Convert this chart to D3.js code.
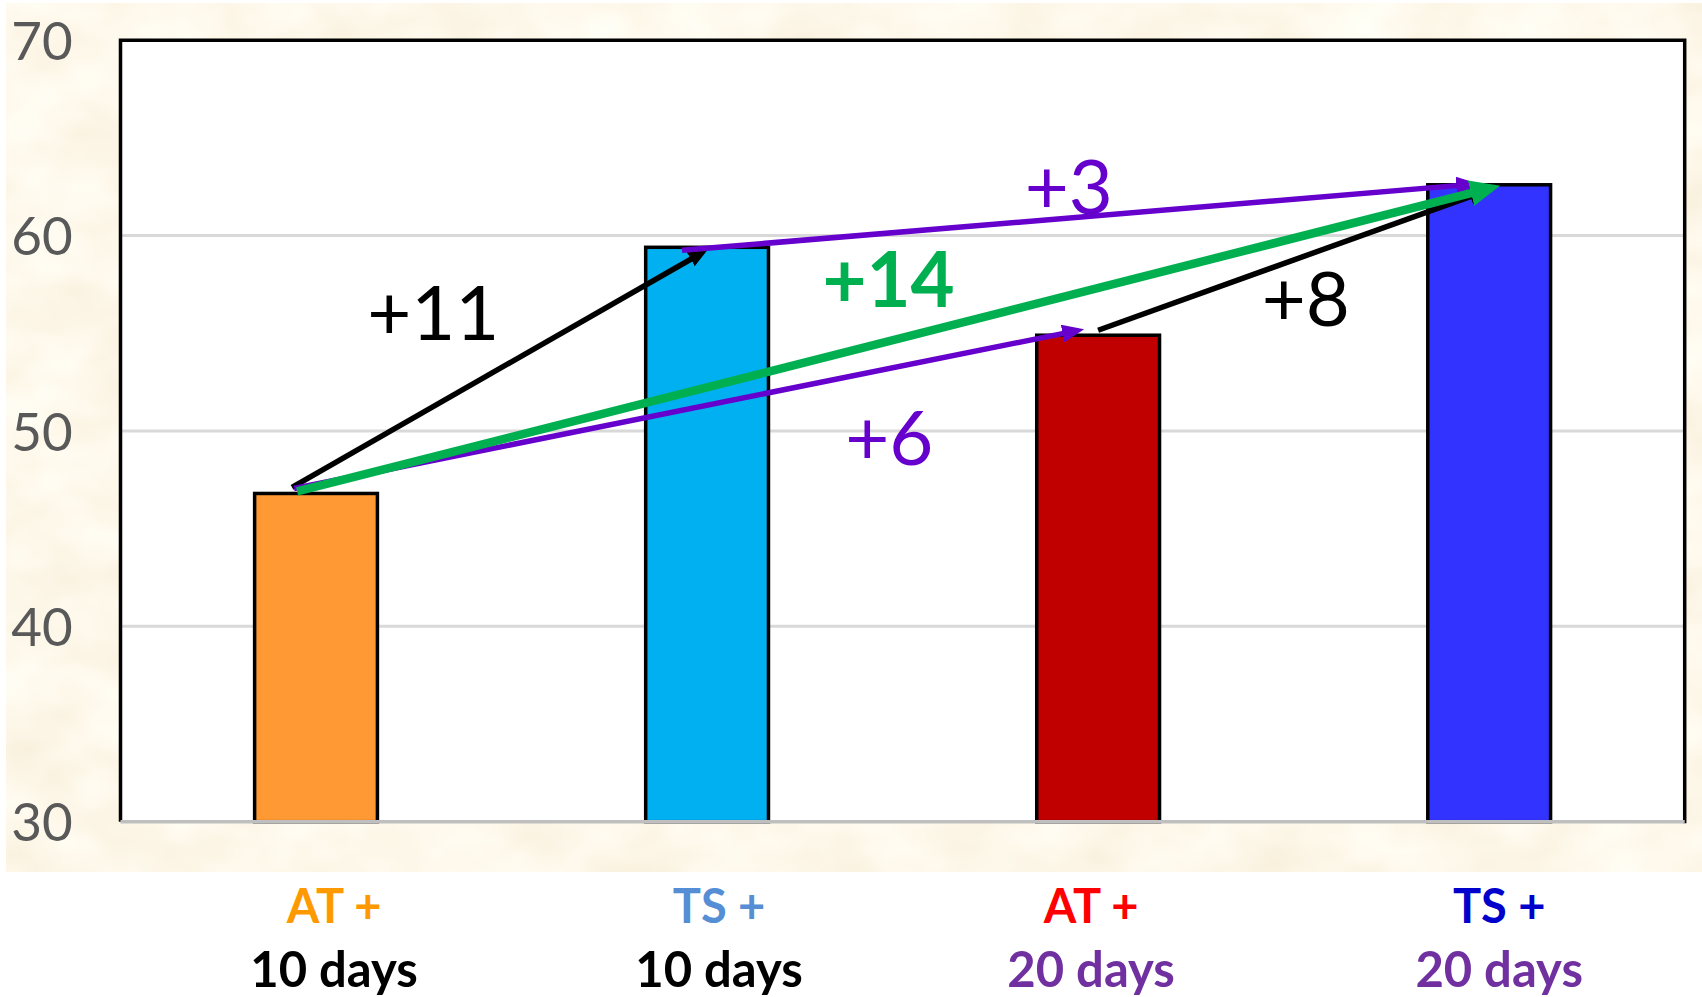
<!DOCTYPE html>
<html>
<head>
<meta charset="utf-8">
<script src="https://cdn.jsdelivr.net/npm/d3@7"></script>
<style>
  html, body { margin: 0; padding: 0; background: #ffffff; }
  svg { display: block; }
  text { font-family: Lato, "Open Sans", "Noto Sans", sans-serif; }
</style>
</head>
<body>
<script>
// ---- data ----
const categories = ["AT10", "TS10", "AT20", "TS20"];
const labelTop = ["AT +", "TS +", "AT +", "TS +"];
const labelBottom = ["10 days", "10 days", "20 days", "20 days"];
const values = [46.8, 59.4, 54.9, 62.6];
const yTicks = [30, 40, 50, 60, 70];
const gridTicks = [40, 50, 60];

// gains between groups: from index -> to index, with their labels
const gainFrom = [0, 0, 1, 2, 0];
const gainTo = [1, 2, 3, 3, 3];
const gainLabels = ["+11", "+6", "+3", "+8", "+14"];

// ---- styles ----
const barFill = ["#FF9933", "#00B0F0", "#C00000", "#3333FF"];
const topColor = ["#FF9900", "#558ED5", "#FF0000", "#0000CC"];
const bottomColor = ["#000000", "#000000", "#7030A0", "#7030A0"];
const labelShift = [18, 12, -7, 10];

// per-arrow drawing style; offsets are px relative to the bar-top anchors
const arrowStyle = [
  { color: "#000000", width: 5.5, head: [20, 16], sdx: -24, sdy: -6, edx: 1, edy: 2 },
  { color: "#6600CC", width: 5.5, head: [22, 18], sdx: -22, sdy: -5, edx: -14, edy: -6 },
  { color: "#6600CC", width: 5.5, head: [22, 18], sdx: -25, sdy: 3, edx: -11, edy: -1 },
  { color: "#000000", width: 5.5, head: [20, 16], sdx: 0, sdy: -5, edx: 0, edy: 5 },
  { color: "#00B050", width: 8.5, head: [30, 26], sdx: -19, sdy: -2, edx: 11, edy: 1 }
];
// label placement in chart units: x as fractional category index, y as axis value (baseline)
const gainLabelAt = [
  { i: 0.30, v: 54.65, color: "#000000", bold: false },
  { i: 1.466, v: 48.26, color: "#6600CC", bold: false },
  { i: 1.925, v: 61.1, color: "#6600CC", bold: false },
  { i: 2.531, v: 55.35, color: "#000000", bold: false },
  { i: 1.464, v: 56.34, color: "#00B050", bold: true }
];
const drawOrder = [0, 3, 1, 2, 4];

const W = 1702, H = 997;
const plot = { left: 120.5, right: 1684.7, top: 40.2, bottom: 821.7 };

const svg = d3.select("body").append("svg")
  .attr("width", W).attr("height", H)
  .attr("viewBox", `0 0 ${W} ${H}`);

const defs = svg.append("defs");

// parchment texture
const filt = defs.append("filter").attr("id", "parchment")
  .attr("x", 0).attr("y", 0).attr("width", "100%").attr("height", "100%");
filt.append("feTurbulence")
  .attr("type", "fractalNoise")
  .attr("baseFrequency", "0.012 0.018")
  .attr("numOctaves", 3)
  .attr("seed", 7)
  .attr("result", "noise");
filt.append("feColorMatrix")
  .attr("in", "noise")
  .attr("type", "matrix")
  .attr("values",
    "0.10 0 0 0 0.94 " +
    "0.16 0 0 0 0.86 " +
    "0.26 0 0 0 0.70 " +
    "0 0 0 0 1");

svg.append("rect")
  .attr("x", 6).attr("y", 3)
  .attr("width", W - 6).attr("height", 869)
  .attr("fill", "#FBEFD6")
  .attr("filter", "url(#parchment)");

// scales
const x = d3.scaleBand()
  .domain(categories)
  .range([plot.left, plot.right])
  .paddingInner(0.686)
  .paddingOuter(0.343);
const y = d3.scaleLinear().domain([30, 70]).range([plot.bottom, plot.top]);
const cx = i => x(categories[i]) + x.bandwidth() / 2;
const idxX = d3.scaleLinear().domain([0, categories.length - 1])
  .range([cx(0), cx(categories.length - 1)]);

// plot area
svg.append("rect")
  .attr("x", plot.left).attr("y", plot.top)
  .attr("width", plot.right - plot.left).attr("height", plot.bottom - plot.top)
  .attr("fill", "#ffffff");

// gridlines
svg.append("g").selectAll("line").data(gridTicks).join("line")
  .attr("x1", plot.left).attr("x2", plot.right)
  .attr("y1", d => y(d)).attr("y2", d => y(d))
  .attr("stroke", "#D9D9D9").attr("stroke-width", 3);

// frame (top, left, right)
svg.append("path")
  .attr("d", `M${plot.left},${plot.bottom} V${plot.top} H${plot.right} V${plot.bottom + 1.5}`)
  .attr("fill", "none").attr("stroke", "#000").attr("stroke-width", 3.5);

// y axis tick labels
const yAxis = d3.axisLeft(y).tickValues(yTicks).tickSize(0).tickPadding(0);
const yg = svg.append("g").attr("transform", `translate(${plot.left},0)`).call(yAxis);
yg.select(".domain").remove();
yg.selectAll("text")
  .attr("x", 42 - plot.left)
  .attr("dy", "0.36em")
  .attr("text-anchor", "middle")
  .attr("fill", "#595959")
  .style("font-size", "53px")
  .style("font-family", "Lato, 'Open Sans', sans-serif");

// bars
svg.append("g").selectAll("rect").data(values).join("rect")
  .attr("x", (d, i) => x(categories[i]))
  .attr("y", d => y(d))
  .attr("width", x.bandwidth())
  .attr("height", d => y(30) - y(d))
  .attr("fill", (d, i) => barFill[i])
  .attr("stroke", "#000").attr("stroke-width", 3.5);

// x axis baseline
svg.append("line")
  .attr("x1", plot.left).attr("x2", plot.right)
  .attr("y1", plot.bottom).attr("y2", plot.bottom)
  .attr("stroke", "#BFBFBF").attr("stroke-width", 3.5);

// arrow heads
arrowStyle.forEach((s, k) => {
  const [L, Wd] = s.head;
  defs.append("marker")
    .attr("id", "head" + k)
    .attr("markerUnits", "userSpaceOnUse")
    .attr("viewBox", `0 0 ${L} ${Wd}`)
    .attr("markerWidth", L).attr("markerHeight", Wd)
    .attr("refX", L * 0.4).attr("refY", Wd / 2)
    .attr("orient", "auto")
    .append("path")
    .attr("d", `M0,0 L${L},${Wd / 2} L0,${Wd} Z`)
    .attr("fill", s.color);
});

// gain arrows
const ag = svg.append("g");
drawOrder.forEach(k => {
  const s = arrowStyle[k];
  const a = gainFrom[k], b = gainTo[k];
  const x1 = cx(a) + s.sdx, y1 = y(values[a]) + s.sdy;
  const tx = cx(b) + s.edx, ty = y(values[b]) + s.edy;
  const len = Math.hypot(tx - x1, ty - y1);
  const back = s.head[0] * 0.6;
  const x2 = tx - (tx - x1) / len * back;
  const y2 = ty - (ty - y1) / len * back;
  ag.append("line")
    .attr("x1", x1).attr("y1", y1).attr("x2", x2).attr("y2", y2)
    .attr("stroke", s.color).attr("stroke-width", s.width)
    .attr("marker-end", `url(#head${k})`);
});

// gain labels
svg.append("g").selectAll("text").data(gainLabels).join("text")
  .attr("x", (d, k) => idxX(gainLabelAt[k].i))
  .attr("y", (d, k) => y(gainLabelAt[k].v))
  .attr("text-anchor", "middle")
  .attr("fill", (d, k) => gainLabelAt[k].color)
  .style("font-size", "76px")
  .style("font-weight", (d, k) => gainLabelAt[k].bold ? 700 : 400)
  .text(d => d);

// category labels (two lines)
const cg = svg.append("g").selectAll("g").data(categories).join("g");
cg.append("text")
  .attr("x", (d, i) => cx(i) + labelShift[i])
  .attr("y", 923)
  .attr("text-anchor", "middle")
  .attr("fill", (d, i) => topColor[i])
  .style("font-size", "47px").style("font-weight", 700)
  .text((d, i) => labelTop[i]);
cg.append("text")
  .attr("x", (d, i) => cx(i) + labelShift[i])
  .attr("y", 987)
  .attr("text-anchor", "middle")
  .attr("fill", (d, i) => bottomColor[i])
  .style("font-size", "49px").style("font-weight", 700)
  .text((d, i) => labelBottom[i]);
</script>
</body>
</html>
